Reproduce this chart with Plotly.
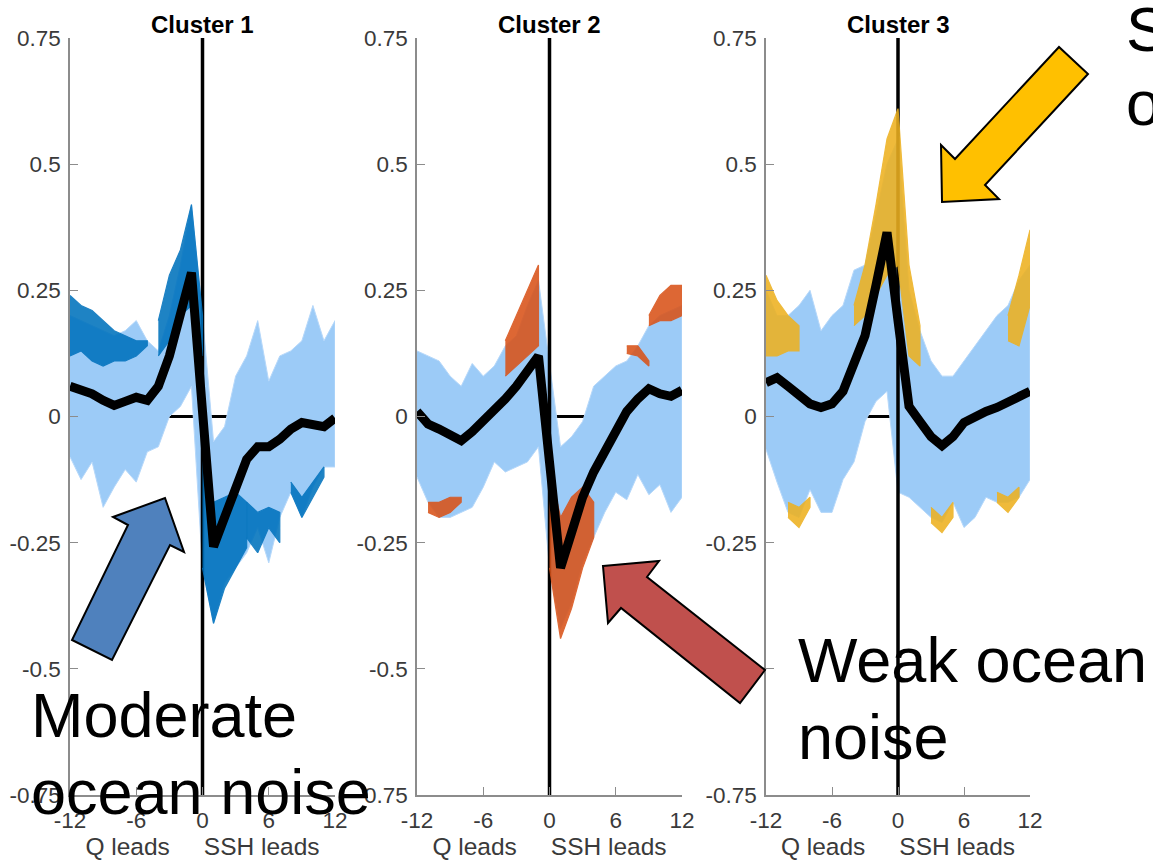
import plotly.graph_objects as go

W, H = 1153, 861

# ---------------- data ----------------
lags = list(range(-12, 13))
y_ticks = [-0.75, -0.5, -0.25, 0, 0.25, 0.5, 0.75]
y_ticklabels = ["-0.75", "-0.5", "-0.25", "0", "0.25", "0.5", "0.75"]
x_ticks = [-12, -6, 0, 6, 12]
x_ticklabels = ["-12", "-6", "0", "6", "12"]
cluster_titles = ["Cluster 1", "Cluster 2", "Cluster 3"]
x_label = "Q leads\u00a0\u00a0\u00a0\u00a0\u00a0SSH leads"

# cluster means (thick black line)
c1_mean = [0.06, 0.052, 0.045, 0.032, 0.022, 0.03, 0.038, 0.032, 0.06, 0.12, 0.195, 0.285,
           0.01, -0.258, -0.2, -0.14, -0.085, -0.06, -0.06, -0.045, -0.025, -0.012, -0.015, -0.02, -0.003]
c2_mean = [0.01, -0.015, -0.025, -0.035, -0.048, -0.03, -0.01, 0.015, 0.035, 0.06, 0.09, 0.12,
           -0.09, -0.30, -0.23, -0.16, -0.11, -0.07, -0.03, 0.01, 0.035, 0.055, 0.045, 0.04, 0.052]
c3_mean = [0.067, 0.077, 0.06, 0.04, 0.025, 0.018, 0.025, 0.05, 0.1, 0.16, 0.26, 0.365,
           0.19, 0.02, -0.01, -0.04, -0.058, -0.04, -0.012, 0.0, 0.01, 0.018, 0.028, 0.036, 0.05]

# envelope of all members (light blue spaghetti)
c1_upper = [0.2, 0.19, 0.18, 0.17, 0.16, 0.17, 0.19, 0.15, 0.13, 0.2, 0.3, 0.42,
            0.2, -0.05, -0.02, 0.08, 0.12, 0.19, 0.07, 0.12, 0.13, 0.15, 0.22, 0.15, 0.19]
c1_lower = [-0.08, -0.125, -0.09, -0.18, -0.14, -0.105, -0.13, -0.07, -0.06, 0.0, 0.02, 0.06,
            -0.3, -0.41, -0.33, -0.3, -0.27, -0.22, -0.29, -0.2, -0.15, -0.2, -0.14, -0.1, -0.1]
c2_upper = [0.13, 0.12, 0.11, 0.08, 0.06, 0.105, 0.08, 0.1, 0.14, 0.16, 0.22, 0.27,
            0.1, -0.06, -0.04, -0.01, 0.06, 0.08, 0.1, 0.11, 0.14, 0.18, 0.2, 0.21, 0.22]
c2_lower = [-0.12, -0.17, -0.2, -0.2, -0.19, -0.18, -0.14, -0.09, -0.11, -0.1, -0.09, -0.06,
            -0.3, -0.42, -0.37, -0.29, -0.24, -0.19, -0.15, -0.165, -0.115, -0.155, -0.135, -0.19, -0.16]
c3_upper = [0.25, 0.2, 0.2, 0.22, 0.25, 0.17, 0.2, 0.22, 0.29, 0.3, 0.4, 0.5,
            0.55, 0.25, 0.17, 0.11, 0.08, 0.08, 0.11, 0.14, 0.17, 0.2, 0.22, 0.27, 0.3]
c3_lower = [-0.065, -0.13, -0.19, -0.2, -0.145, -0.19, -0.19, -0.125, -0.09, -0.01, 0.03, 0.05,
            -0.15, -0.16, -0.18, -0.2, -0.21, -0.17, -0.22, -0.2, -0.16, -0.17, -0.17, -0.16, -0.125]

# highlighted members of cluster 1 (dark blue)
c1_hl_a_x = [-12, -11, -10, -9, -8, -7, -6, -5]
c1_hl_a_hi = [0.24, 0.22, 0.21, 0.19, 0.17, 0.16, 0.15, 0.15]
c1_hl_a_lo = [0.12, 0.13, 0.11, 0.10, 0.11, 0.11, 0.12, 0.14]
c1_hl_b_x = [-4, -3, -2, -1, 0]
c1_hl_b_hi = [0.19, 0.28, 0.33, 0.42, 0.2]
c1_hl_b_lo = [0.12, 0.15, 0.2, 0.22, 0.12]
c1_hl_c_x = [0, 1, 2, 3, 4]
c1_hl_c_hi = [-0.06, -0.17, -0.16, -0.15, -0.17]
c1_hl_c_lo = [-0.3, -0.41, -0.34, -0.3, -0.26]
c1_hl_d_x = [4, 5, 6, 7]
c1_hl_d_hi = [-0.17, -0.19, -0.18, -0.19]
c1_hl_d_lo = [-0.24, -0.27, -0.22, -0.25]
c1_hl_e_x = [8, 9, 10, 11]
c1_hl_e_hi = [-0.13, -0.16, -0.13, -0.1]
c1_hl_e_lo = [-0.15, -0.2, -0.16, -0.12]

# highlighted members of cluster 2 (orange)
c2_hl_a_x = [-4, -3, -2, -1]
c2_hl_a_hi = [0.15, 0.2, 0.25, 0.3]
c2_hl_a_lo = [0.08, 0.1, 0.12, 0.14]
c2_hl_b_x = [0, 1, 2, 3, 4]
c2_hl_b_hi = [-0.1, -0.2, -0.16, -0.14, -0.17]
c2_hl_b_lo = [-0.3, -0.44, -0.38, -0.3, -0.24]
c2_hl_c_x = [9, 10, 11, 12]
c2_hl_c_hi = [0.2, 0.24, 0.26, 0.26]
c2_hl_c_lo = [0.18, 0.19, 0.19, 0.2]
c2_hl_d_x = [-11, -10, -9, -8]
c2_hl_d_hi = [-0.17, -0.17, -0.16, -0.16]
c2_hl_d_lo = [-0.19, -0.2, -0.19, -0.17]
c2_hl_e_x = [7, 8, 9]
c2_hl_e_hi = [0.14, 0.14, 0.11]
c2_hl_e_lo = [0.125, 0.12, 0.1]

# highlighted members of cluster 3 (yellow)
c3_hl_a_x = [-4, -3, -2, -1, 0, 1, 2]
c3_hl_a_hi = [0.22, 0.3, 0.42, 0.55, 0.61, 0.3, 0.18]
c3_hl_a_lo = [0.18, 0.2, 0.24, 0.28, 0.3, 0.12, 0.1]
c3_hl_b_x = [-12, -11, -10, -9]
c3_hl_b_hi = [0.28, 0.23, 0.2, 0.18]
c3_hl_b_lo = [0.12, 0.12, 0.13, 0.13]
c3_hl_c_x = [10, 11, 12]
c3_hl_c_hi = [0.2, 0.28, 0.37]
c3_hl_c_lo = [0.15, 0.14, 0.22]
c3_hl_d_x = [-10, -9, -8]
c3_hl_d_hi = [-0.17, -0.18, -0.16]
c3_hl_d_lo = [-0.2, -0.22, -0.18]
c3_hl_e_x = [3, 4, 5]
c3_hl_e_hi = [-0.18, -0.2, -0.17]
c3_hl_e_lo = [-0.21, -0.23, -0.2]
c3_hl_f_x = [9, 10, 11]
c3_hl_f_hi = [-0.15, -0.16, -0.14]
c3_hl_f_lo = [-0.17, -0.19, -0.16]

annotation_lines = ["Moderate", "ocean noise", "Weak ocean", "noise", "Strong", "ocean noise"]

# ---------------- styling ----------------
FONT = "Liberation Sans, Arial, Helvetica, sans-serif"
LIGHT = "#9ccbf7"
EDGE = "#b6d8fa"
COLORS = ["#0072BD", "#D95319", "#EDB120"]
AXC = "#8c8c8c"

x_px = [(70, 335), (417, 682), (766, 1030)]
y_top, y_bot = 38, 795

fig = go.Figure()


def band(ax, xs, hi, lo, color, opacity=1.0, edge=None, ew=1):
    fig.add_trace(go.Scatter(
        x=list(xs) + list(xs)[::-1], y=list(hi) + list(lo)[::-1],
        fill="toself", fillcolor=color, opacity=opacity, mode="lines",
        line=dict(color=edge or color, width=ew), hoverinfo="skip", showlegend=False,
        xaxis=ax[0], yaxis=ax[1]))


clusters = [
    (c1_mean, c1_upper, c1_lower, [
        (c1_hl_a_x, c1_hl_a_hi, c1_hl_a_lo), (c1_hl_b_x, c1_hl_b_hi, c1_hl_b_lo),
        (c1_hl_c_x, c1_hl_c_hi, c1_hl_c_lo), (c1_hl_d_x, c1_hl_d_hi, c1_hl_d_lo),
        (c1_hl_e_x, c1_hl_e_hi, c1_hl_e_lo)]),
    (c2_mean, c2_upper, c2_lower, [
        (c2_hl_a_x, c2_hl_a_hi, c2_hl_a_lo), (c2_hl_b_x, c2_hl_b_hi, c2_hl_b_lo),
        (c2_hl_c_x, c2_hl_c_hi, c2_hl_c_lo), (c2_hl_d_x, c2_hl_d_hi, c2_hl_d_lo),
        (c2_hl_e_x, c2_hl_e_hi, c2_hl_e_lo)]),
    (c3_mean, c3_upper, c3_lower, [
        (c3_hl_a_x, c3_hl_a_hi, c3_hl_a_lo), (c3_hl_b_x, c3_hl_b_hi, c3_hl_b_lo),
        (c3_hl_c_x, c3_hl_c_hi, c3_hl_c_lo), (c3_hl_d_x, c3_hl_d_hi, c3_hl_d_lo),
        (c3_hl_e_x, c3_hl_e_hi, c3_hl_e_lo), (c3_hl_f_x, c3_hl_f_hi, c3_hl_f_lo)]),
]

layout_axes = {}
for i, (mean, up, lo, hls) in enumerate(clusters):
    n = "" if i == 0 else str(i + 1)
    ax = ("x" + n, "y" + n)
    # zero reference line (beneath the members)
    fig.add_trace(go.Scatter(x=[-12, 12], y=[0, 0], mode="lines",
                             line=dict(color="black", width=3), hoverinfo="skip",
                             showlegend=False, xaxis=ax[0], yaxis=ax[1]))
    band(ax, lags, up, lo, LIGHT, edge=EDGE, ew=1)
    # zero-lag line
    fig.add_trace(go.Scatter(x=[0, 0], y=[-0.75, 0.75], mode="lines",
                             line=dict(color="black", width=3.5), hoverinfo="skip",
                             showlegend=False, xaxis=ax[0], yaxis=ax[1]))
    for xs, hi, lw in hls:
        band(ax, xs, hi, lw, COLORS[i], opacity=0.88, edge=COLORS[i], ew=1.2)
    fig.add_trace(go.Scatter(x=lags, y=mean, mode="lines",
                             line=dict(color="black", width=9), hoverinfo="skip",
                             showlegend=False, xaxis=ax[0], yaxis=ax[1]))

    x0, x1 = x_px[i]
    common = dict(showline=True, linecolor=AXC, linewidth=1.5, ticks="inside",
                  ticklen=8, tickwidth=1.2, tickcolor=AXC, showgrid=False,
                  zeroline=False, mirror=False, automargin=False,
                  tickfont=dict(family=FONT, size=22.5, color="#3a3a3a"))
    layout_axes["xaxis" + n] = dict(
        common, domain=[x0 / W, x1 / W], range=[-12, 12], tickvals=x_ticks,
        ticktext=x_ticklabels, anchor="y" + n, ticklabelstandoff=4,
        title=dict(text=x_label, standoff=2,
                   font=dict(family=FONT, size=24.5, color="#3a3a3a")))
    layout_axes["yaxis" + n] = dict(
        common, domain=[1 - y_bot / H, 1 - y_top / H], range=[-0.75, 0.75],
        tickvals=y_ticks, ticktext=y_ticklabels, anchor="x" + n, ticklabelstandoff=3)

fig.update_layout(width=W, height=H, margin=dict(l=0, r=0, t=0, b=0, autoexpand=False),
                  paper_bgcolor="white", plot_bgcolor="white", showlegend=False,
                  font=dict(family=FONT), **layout_axes)


def P(px, py):
    return px / W, 1 - py / H


def arrow_path(pts):
    s = ""
    for k, (px, py) in enumerate(pts):
        xx, yy = P(px, py)
        s += ("M" if k == 0 else "L") + f"{xx:.5f},{yy:.5f} "
    return s + "Z"


arrows = [
    ([(165, 498), (184, 552), (170, 545), (112, 660), (72, 640), (128, 525), (113, 517)], "#4F81BD"),
    ([(603, 566), (659, 561), (647, 577), (765, 670), (740, 703), (621, 608), (608, 623)], "#C0504D"),
    ([(942, 202), (941, 145), (955, 159), (1059, 47), (1088, 74), (985, 185), (999, 199)], "#FFC000"),
]
shapes = []
for pts, col in arrows:
    shapes.append(dict(type="path", xref="paper", yref="paper", path=arrow_path(pts),
                       fillcolor=col, line=dict(color="black", width=2), layer="above"))
fig.update_layout(shapes=shapes)

annos = []
for i, t in enumerate(cluster_titles):
    x0, x1 = x_px[i]
    xx, yy = P((x0 + x1) / 2, 25)
    annos.append(dict(text="<b>" + t + "</b>", x=xx, y=yy, xref="paper", yref="paper",
                      showarrow=False, xanchor="center", yanchor="middle",
                      font=dict(family=FONT, size=24, color="black")))
# one annotation per text line (left edge px, box-top px)
line_pos = [(29, 678), (29, 755), (796, 623), (796, 700), (1124, -8), (1124, 66)]
for (px, py), t in zip(line_pos, annotation_lines):
    xx, yy = P(px, py)
    annos.append(dict(text=t, x=xx, y=yy, xref="paper", yref="paper", showarrow=False,
                      xanchor="left", yanchor="top", align="left",
                      font=dict(family=FONT, size=63, color="black")))
fig.update_layout(annotations=annos)

fig.write_html("out.html")
